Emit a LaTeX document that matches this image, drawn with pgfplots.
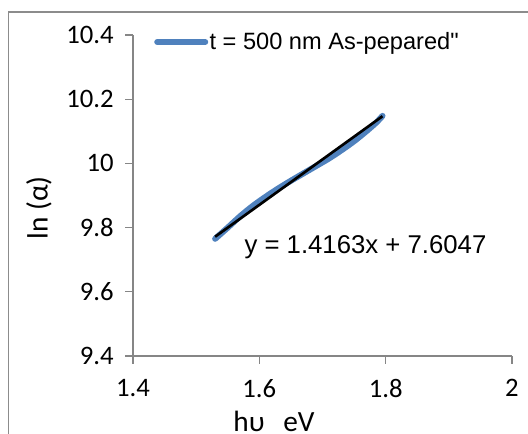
\documentclass[border=0pt]{standalone}
\usepackage{fontspec}
\setmainfont{Carlito}
\newfontfamily\arial{Liberation Sans}
\usepackage{pgfplots}
\pgfplotsset{compat=1.18}
\definecolor{exblue}{HTML}{4F81BD}
\definecolor{axgray}{HTML}{868686}
\definecolor{framegray}{HTML}{8C8C8C}
\begin{document}
\begin{tikzpicture}
\useasboundingbox (0,0) rectangle (396pt,325.5pt);
% chart area frame (only left and top edges fall inside the picture)
\draw[framegray, line width=1pt] (6.2pt,-2pt) -- (6.2pt,316.5pt) -- (400pt,316.5pt);
\begin{axis}[
  at={(99.75pt,58.5pt)}, anchor=south west,
  scale only axis, width=284.25pt, height=240.75pt,
  xmin=1.4, xmax=2, ymin=9.4, ymax=10.4,
  xtick={1.4,1.6,1.8,2}, ytick={9.4,9.6,9.8,10,10.2,10.4},
  axis x line*=bottom, axis y line*=left,
  axis line style={axgray, line width=0.8pt, -},
  tick style={axgray, line width=0.8pt}, tick align=outside, major tick length=6pt,
  ticklabel style={font=\fontsize{20}{22}\selectfont},
  /pgf/number format/assume math mode=true,
  xticklabel style={yshift=-8pt}, yticklabel style={xshift=-5pt},
  xlabel={hυ\hspace{14pt}eV}, ylabel={ln (α)},
  xlabel style={at={(rel axis cs:0.372,-0.234)}, anchor=base, font=\fontsize{22}{24}\selectfont},
  ylabel style={at={(rel axis cs:-0.225,0.461)}, anchor=base, font=\fontsize{22}{24}\selectfont},
  clip=false,
  legend style={draw=none, fill=none, at={(axis cs:1.4332,10.378)}, anchor=west,
    font=\arial\fontsize{17.7}{19}\selectfont, inner sep=0pt,
    nodes={inner sep=1pt}},
  legend image code/.code={\draw[exblue, line width=4.5pt, line cap=round] (0pt,0pt) -- (36pt,0pt);},
]
\addplot[exblue, line width=4.5pt, line cap=round, line join=round, smooth, tension=0.5] coordinates {
(1.530,9.765) (1.550,9.800) (1.570,9.836) (1.590,9.868) (1.610,9.896)
(1.630,9.922) (1.650,9.946) (1.670,9.969) (1.690,9.992) (1.710,10.015)
(1.730,10.041) (1.750,10.069) (1.770,10.101) (1.785,10.127) (1.795,10.148)
};
\addlegendentry{t = 500 nm As-pepared"}
\addplot[black, line width=2pt, forget plot] coordinates {(1.530,9.7716) (1.795,10.1470)};
\node[font=\arial\fontsize{19.3}{21}\selectfont] at (axis cs:1.768,9.740) {y = 1.4163x + 7.6047};
\end{axis}
\end{tikzpicture}
\end{document}
